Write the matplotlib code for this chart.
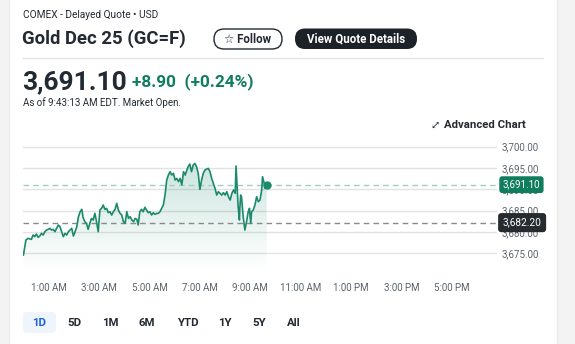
import numpy as np
import matplotlib
matplotlib.use("Agg")
import matplotlib.pyplot as plt
from matplotlib import font_manager
from matplotlib.ft2font import FT2Font
from matplotlib.patches import FancyBboxPatch, Rectangle
from matplotlib.transforms import blended_transform_factory

plt.rcParams['font.family'] = ['Roboto', 'DejaVu Sans']

# intraday quotes: minutes after midnight, price
minutes = [0, 6, 11, 19, 23, 27, 31, 35, 39, 43, 47, 51, 55, 59, 63, 67, 71, 75, 79, 83,
           87, 91, 95, 99, 103, 107, 111, 115, 119, 123, 127, 131, 135, 139, 142, 146, 150, 154, 158, 162,
           166, 170, 174, 178, 182, 186, 190, 194, 198, 202, 206, 210, 214, 218, 222, 226, 230, 234, 238, 242,
           246, 250, 254, 258, 262, 266, 270, 273, 277, 281, 285, 289, 293, 297, 301, 305, 309, 313, 317, 321,
           325, 329, 333, 337, 341, 345, 349, 353, 357, 361, 365, 369, 373, 377, 381, 385, 389, 392, 396, 400,
           404, 408, 412, 416, 420, 424, 428, 432, 436, 440, 444, 448, 452, 456, 460, 464, 468, 472, 476, 480,
           484, 488, 492, 496, 500, 504, 506, 509, 511, 514, 515, 517, 519, 523, 527, 531, 535, 538, 541, 543,
           547, 551, 555, 559, 563, 567, 569, 573, 575, 579]
prices = [3674.61, 3678.13, 3678.52, 3678.28, 3679.30, 3678.91, 3679.53, 3678.75, 3679.06, 3679.69,
          3679.30, 3680.08, 3680.47, 3680.62, 3680.86, 3680.47, 3680.62, 3680.08, 3680.86, 3681.64,
          3681.25, 3680.08, 3678.91, 3679.69, 3679.30, 3680.08, 3680.47, 3680.86, 3679.06, 3680.08,
          3681.25, 3683.59, 3684.77, 3685.31, 3683.44, 3682.42, 3682.03, 3680.62, 3682.03, 3683.20,
          3682.81, 3684.37, 3682.42, 3680.08, 3685.16, 3685.55, 3686.33, 3685.31, 3685.55, 3684.53,
          3684.77, 3683.98, 3684.77, 3685.31, 3686.72, 3685.16, 3684.37, 3683.98, 3682.42, 3682.03,
          3684.77, 3683.20, 3683.59, 3682.81, 3682.42, 3683.20, 3682.97, 3681.64, 3684.77, 3685.31,
          3684.77, 3685.78, 3685.16, 3684.53, 3684.77, 3683.98, 3684.53, 3684.14, 3684.37, 3684.37,
          3684.77, 3685.55, 3686.33, 3688.67, 3692.19, 3693.36, 3694.14, 3693.36, 3693.75, 3692.19,
          3692.58, 3691.80, 3692.58, 3691.02, 3694.14, 3693.36, 3694.53, 3695.31, 3695.94, 3694.14,
          3695.70, 3696.09, 3695.31, 3693.75, 3690.00, 3692.19, 3693.75, 3694.53, 3694.77, 3694.92,
          3694.14, 3692.58, 3691.41, 3690.23, 3688.67, 3689.45, 3689.06, 3688.67, 3689.22, 3688.67,
          3689.45, 3688.28, 3687.50, 3689.06, 3689.84, 3689.06, 3695.47, 3689.84, 3685.94, 3682.81,
          3685.55, 3688.67, 3688.28, 3683.59, 3680.47, 3682.42, 3684.77, 3685.55, 3682.03, 3684.77,
          3685.16, 3686.33, 3688.28, 3687.11, 3687.50, 3689.84, 3692.97, 3691.41, 3690.23, 3691.10]

last_price = 3691.10
prev_close = 3682.20
y_ticks = [3675, 3680, 3685, 3690, 3695, 3700]
x_ticks = [60, 180, 300, 420, 540, 660, 780, 900, 1020]
x_labels = ['1:00 AM', '3:00 AM', '5:00 AM', '7:00 AM', '9:00 AM',
            '11:00 AM', '1:00 PM', '3:00 PM', '5:00 PM']
ranges = ['1D', '5D', '1M', '6M', 'YTD', '1Y', '5Y', 'All']

GREEN = '#0f7d5e'
LINE = '#1b8a6b'
DARK = '#232a31'
GRAY = '#5b636a'


def family_with(ch, candidates):
    # first installed family whose font file has the glyph
    for fam in candidates:
        try:
            path = font_manager.findfont(fam, fallback_to_default=False)
        except Exception:
            continue
        if ord(ch) in FT2Font(path).get_charmap():
            return fam
    return None


W, H = 575, 344
fig = plt.figure(figsize=(W / 100, H / 100), dpi=100)
fig.patch.set_facecolor('#f3f3f3')

# background axis in pixel units
bg = fig.add_axes([0, 0, 1, 1], zorder=0)
bg.set_xlim(0, W)
bg.set_ylim(H, 0)
bg.axis('off')
bg.add_patch(Rectangle((9, -5), 548, H + 10, fc='white', ec='#ececec', lw=1))

bg.text(23, 15, 'COMEX - Delayed Quote • USD', fontsize=7.3, color=DARK, va='center')
bg.text(22, 39, 'Gold Dec 25 (GC=F)', fontsize=13.3, fontweight='bold', color=DARK, va='center')
bg.add_patch(FancyBboxPatch((214, 29), 68, 20, boxstyle='round,pad=0,rounding_size=10',
                            fc='white', ec=DARK, lw=1))
bg.text(248, 39.5, '☆ Follow', fontsize=8.3, fontweight='bold', color=DARK,
        ha='center', va='center', family=['Roboto', 'DejaVu Sans'])
bg.add_patch(FancyBboxPatch((295, 28.5), 122, 20.5, boxstyle='round,pad=0,rounding_size=10',
                            fc='#1d2228', ec='none'))
bg.text(356, 39, 'View Quote Details', fontsize=8.3, fontweight='bold', color='white',
        ha='center', va='center')
bg.plot([23, 543], [57.5, 57.5], color='#e3e3e3', lw=1)

bg.text(22, 82, '3,691.10', fontsize=19, fontweight='bold', color=DARK, va='center')
bg.text(132, 82, '+8.90  (+0.24%)', fontsize=12.4, fontweight='bold', color=GREEN, va='center')
bg.text(23, 103, 'As of 9:43:13 AM EDT. Market Open.', fontsize=7, color=DARK, va='center')

icon_fam = family_with('⤢', ['DejaVu Sans', 'DejaVu Sans Mono', 'DejaVu Serif', 'Noto Sans',
                             'Noto Sans CJK JP', 'Liberation Sans', 'Lato', 'Inter'])
if icon_fam:
    bg.text(435, 125.5, '⤢', fontsize=8, color=DARK, va='center', ha='center', family=icon_fam)
else:
    bg.annotate('', xy=(439, 121.5), xytext=(431, 129.5),
                arrowprops=dict(arrowstyle='<|-|>', color=DARK, lw=1, mutation_scale=5))
bg.text(444, 125.5, 'Advanced Chart', fontsize=8.2, fontweight='bold', color=DARK, va='center')

# range selector
bg.add_patch(FancyBboxPatch((23, 312), 33, 21, boxstyle='round,pad=0,rounding_size=4',
                            fc='#eef5fd', ec='none'))
range_x = [39.5, 74.5, 110, 147, 188, 225, 259.5, 293.5]
for lbl, rx in zip(ranges, range_x):
    bg.text(rx, 322.5, lbl, fontsize=8.2, fontweight='bold', ha='center', va='center',
            color='#1a62d6' if lbl == '1D' else DARK)

# chart
ax = fig.add_axes([23 / W, 1 - 272 / H, 474 / W, 132 / H], zorder=1)
ax.patch.set_alpha(0)
for s in ax.spines.values():
    s.set_visible(False)
ax.set_xlim(-1, 1127)
ax.set_ylim(3670.63, 3701.57)

ax.set_yticks(y_ticks)
ax.set_yticklabels([f'{v:,.2f}' for v in y_ticks])
ax.yaxis.tick_right()
ax.set_xticks(x_ticks)
ax.set_xticklabels(x_labels)
ax.tick_params(length=0, labelsize=7, labelcolor=GRAY)
ax.tick_params(axis='y', pad=3)
ax.tick_params(axis='x', pad=8)
ax.grid(axis='y', color='#e2e2e2', lw=1)
ax.set_axisbelow(True)

ybot = ax.get_ylim()[0]
fill = ax.fill_between(minutes, prices, ybot, color='none', lw=0)
grad = np.zeros((100, 2, 4))
grad[:, :, :3] = matplotlib.colors.to_rgb(LINE)
grad[:, :, 3] = np.linspace(0.22, 0.0, 100)[:, None]
im = ax.imshow(grad, extent=[minutes[0], minutes[-1], ybot, max(prices)],
               aspect='auto', origin='upper', zorder=2)
im.set_clip_path(fill.get_paths()[0], transform=ax.transData)

ax.plot(minutes, prices, color=LINE, lw=1.2, zorder=3)
ax.plot(minutes[-1], prices[-1], 'o', color=LINE, ms=5, zorder=4)

ax.axhline(last_price, color='#9fd0bf', lw=1, ls=(0, (4, 3)), zorder=2.5)
ax.axhline(prev_close, color='#8a8a8a', lw=1, ls=(0, (4, 3)), zorder=2.5)

tr = blended_transform_factory(ax.transAxes, ax.transData)
ax.text(1.012, last_price, f'{last_price:,.2f}', transform=tr, fontsize=7, color='white',
        va='center', ha='left', zorder=5,
        bbox=dict(boxstyle='round,pad=0.35,rounding_size=0.3', fc=GREEN, ec='none'))
ax.text(1.012, prev_close, f'{prev_close:,.2f}', transform=tr, fontsize=7.3, color='white',
        va='center', ha='left', zorder=5,
        bbox=dict(boxstyle='round,pad=0.45,rounding_size=0.3', fc='#262b30', ec='none'))

fig.savefig('out.png', dpi=100)
